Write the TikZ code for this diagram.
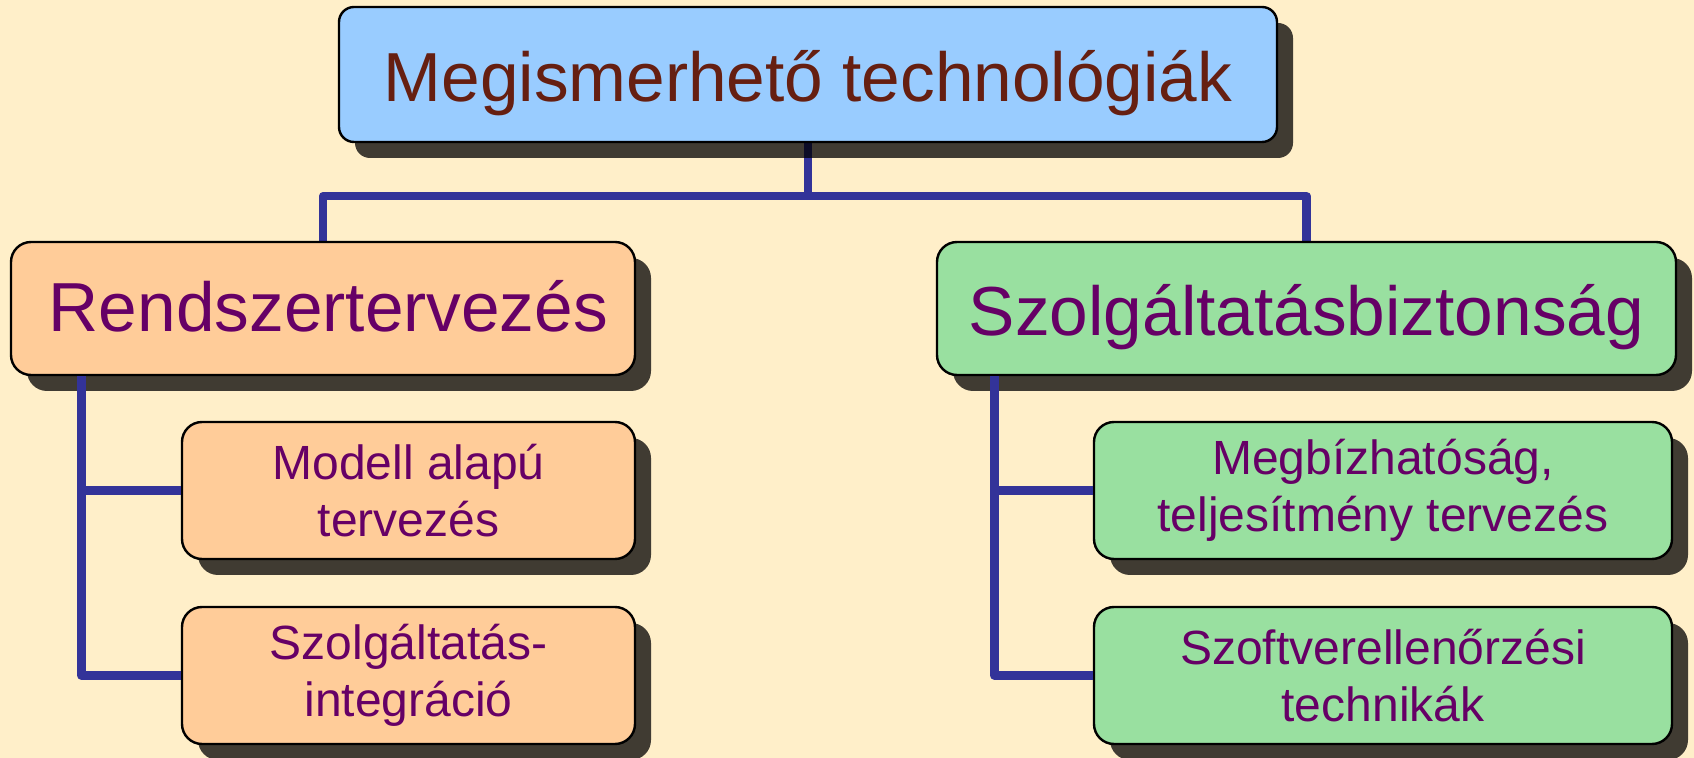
\documentclass[tikz,border=0pt]{standalone}
\usepackage{fontspec}
\setmainfont{Liberation Sans}
\usetikzlibrary{shadows}
\definecolor{bgc}{HTML}{FFEFC9}
\definecolor{topfill}{HTML}{99CCFF}
\definecolor{toptext}{HTML}{661F11}
\definecolor{orangefill}{HTML}{FFCC99}
\definecolor{greenfill}{HTML}{99E0A0}
\definecolor{purpletext}{HTML}{660066}
\definecolor{linkc}{HTML}{333399}
\pgfdeclarelayer{bg}
\pgfsetlayers{bg,main}
\tikzset{
  box/.style={draw=black, line width=1.2pt, rounded corners=10pt, inner sep=0pt, align=center,
    general shadow={shadow xshift=8pt, shadow yshift=-8pt, fill=black, opacity=0.75}},
  topbox/.style={box, fill=topfill, rounded corners=7.5pt, text=toptext,
    font=\fontsize{34.7}{40}\selectfont, minimum width=469pt, minimum height=67.5pt,
    text height=27.2pt, text depth=0pt},
  midbox/.style={box, text=purpletext, font=\fontsize{34.7}{40}\selectfont, minimum height=66.5pt,
    text depth=0pt},
  subbox/.style={box, text=purpletext, font=\fontsize{24}{28.5}\selectfont, minimum height=68.5pt},
  link/.style={draw=linkc, line width=4.2pt, line join=round}
}
\begin{document}
\begin{tikzpicture}[x=0.5pt, y=-0.5pt]
\useasboundingbox (0,0) rectangle (1694,758);
\node[topbox] (T) at (808,74.5) {Megismerhető technológiák};
\node[midbox, fill=orangefill, minimum width=312pt, text height=23.2pt] (L) at (323,308.5) {\hspace*{5.4pt}Rendszertervezés};
\node[midbox, fill=greenfill, minimum width=369.5pt, text height=27.5pt] (R) at (1306.5,308.5) {Szolgáltatásbiztonság};
\node[subbox, fill=orangefill, minimum width=226.5pt] (L1) at (408.5,490.5) {Modell alapú\\tervezés};
\node[subbox, fill=orangefill, minimum width=226.5pt] (L2) at (408.5,675.5) {Szolgáltatás-\\integráció};
\node[subbox, fill=greenfill, minimum width=289pt] (R1) at (1383,490.5) {Megbízhatóság,\\teljesítmény tervezés};
\node[subbox, fill=greenfill, minimum width=289pt] (R2) at (1383,675.5) {Szoftverellenőrzési\\technikák};
\begin{pgfonlayer}{bg}
  \fill[bgc] (0,0) rectangle (1694,758);
  \draw[link] (T.south) -- ++(0,53) -| (L.north);
  \draw[link] (T.south) ++(0,53) -| (R.north);
\end{pgfonlayer}
\draw[link] ([xshift=35.75pt]L.south west) |- (L1.west);
\draw[link] ([xshift=35.75pt]L.south west) |- (L2.west);
\draw[link] ([xshift=29.25pt]R.south west) |- (R1.west);
\draw[link] ([xshift=29.25pt]R.south west) |- (R2.west);
\end{tikzpicture}
\end{document}
